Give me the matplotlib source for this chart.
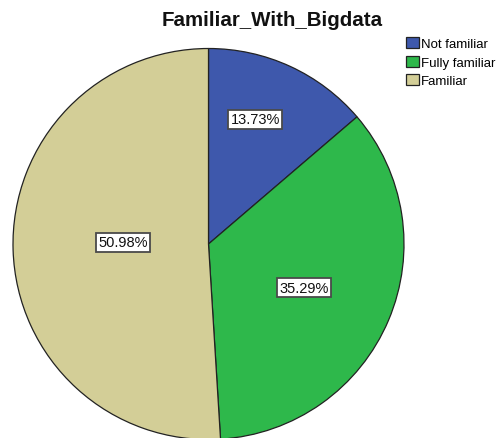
import numpy as np
import matplotlib
matplotlib.use("Agg")
import matplotlib.pyplot as plt
from matplotlib.patches import Patch

plt.rcParams['font.family'] = ['Liberation Sans', 'DejaVu Sans']

title = "Familiar_With_Bigdata"
categories = ["Not familiar", "Fully familiar", "Familiar"]
percents = [13.73, 35.29, 50.98]
colors = ["#3E58AC", "#2EB84B", "#D3CE97"]
# label placement (style): radial fraction and angular offset in degrees
label_r = [0.68, 0.538, 0.437]
label_da = [4.2, -1.75, -2.8]

W, H = 497, 439
fig = plt.figure(figsize=(W / 100, H / 100), dpi=100)
cx, cy, R = 208.5, 245.0, 195.5
ax = fig.add_axes([(cx - R) / W, (H - cy - R) / H, 2 * R / W, 2 * R / H])

wedges, _ = ax.pie(percents, colors=colors, startangle=90, counterclock=False,
                   radius=1.0, wedgeprops=dict(edgecolor="#222222", linewidth=0.9))
ax.set_xlim(-1, 1)
ax.set_ylim(-1, 1)
ax.set_aspect("equal")
ax.axis("off")

for w, p, rf, da in zip(wedges, percents, label_r, label_da):
    mid = np.deg2rad((w.theta1 + w.theta2) / 2 + da)
    ax.text(rf * np.cos(mid), rf * np.sin(mid), f"{p:.2f}%", ha="center", va="center",
            fontsize=10.5, color="#111111",
            bbox=dict(boxstyle="square,pad=0.17", fc="white", ec="#4a4a4a", lw=1.3))

fig.text(272 / W, 1 - 20 / H, title, ha="center", va="center",
         fontsize=14.8, fontweight="bold", color="#111111")

handles = [Patch(facecolor=c, edgecolor="#222222", linewidth=0.9) for c in colors]
fig.legend(handles, categories, loc="upper left", bbox_to_anchor=(406 / W, 1 - 38 / H),
           frameon=False, fontsize=9.5, handlelength=0.95, handleheight=0.95,
           handletextpad=0.2, labelspacing=0.4, borderpad=0, borderaxespad=0)

fig.savefig("out.png", dpi=100)
